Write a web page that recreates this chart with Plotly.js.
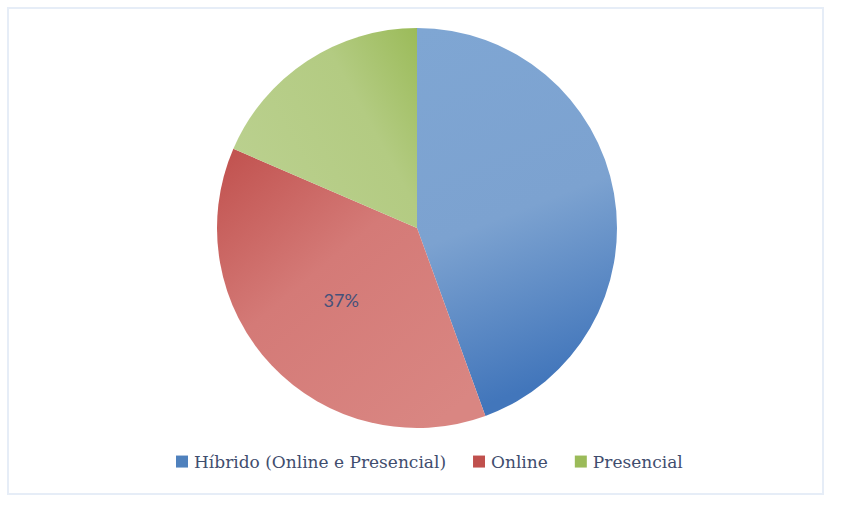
<!DOCTYPE html>
<html>
<head>
<meta charset="utf-8">
<script src="https://cdn.plot.ly/plotly-3.0.1.min.js"></script>
<style>html,body{margin:0;padding:0;background:#fff;}#chart{width:841px;height:513px;}</style>
</head>
<body>
<div id="chart"></div>
<script>
const categories = ['Híbrido (Online e Presencial)', 'Online', 'Presencial'];
const values = [12, 10, 5];
const shownLabels = [false, true, false];

const baseColors = ['#4f81bd', '#c0504d', '#9bbb59'];
const gradients = [
  {id: 'gH', x1: 0, y1: 0, x2: 0.2, y2: 1, stops: [['0%', '#7fa6d3'], ['55%', '#7ca2d0'], ['100%', '#4276bb']]},
  {id: 'gO', x1: 0, y1: 0, x2: 0.8, y2: 1, stops: [['0%', '#c0504d'], ['45%', '#d47a77'], ['100%', '#d98682']]},
  {id: 'gP', x1: 1, y1: 0, x2: 0, y2: 0.6, stops: [['0%', '#9bbb59'], ['40%', '#b3cb82'], ['100%', '#bad08e']]}
];

const trace = {
  type: 'pie',
  labels: categories,
  values: values,
  sort: false,
  direction: 'clockwise',
  rotation: 0,
  marker: {colors: baseColors, line: {width: 0}},
  texttemplate: shownLabels.map(s => s ? '%{percent:.0%}' : ''),
  textposition: 'inside',
  insidetextorientation: 'horizontal',
  textfont: {family: 'Lato, "Liberation Sans", sans-serif', size: 18, color: '#44517a'},
  hoverinfo: 'none'
};

const layout = {
  width: 841,
  height: 513,
  margin: {l: 17, r: 24, t: 28, b: 85},
  paper_bgcolor: '#ffffff',
  showlegend: true,
  legend: {
    orientation: 'h',
    x: 0.515, xanchor: 'center',
    y: -0.085, yanchor: 'middle',
    font: {family: '"DejaVu Serif", serif', size: 17, color: '#3f4d6e'},
    itemsizing: 'constant',
    traceorder: 'normal'
  },
  shapes: [{
    type: 'rect', xref: 'paper', yref: 'paper',
    x0: (8 - 17) / 800, x1: (823 - 17) / 800,
    y0: (428 - 494) / 400, y1: (428 - 8) / 400,
    line: {color: '#e6edf7', width: 2}, fillcolor: 'rgba(0,0,0,0)', layer: 'below'
  }]
};

Plotly.newPlot('chart', [trace], layout, {displayModeBar: false, staticPlot: true}).then(gd => {
  const svg = gd.querySelector('svg.main-svg');
  const ns = 'http://www.w3.org/2000/svg';
  let defs = svg.querySelector('defs');
  if (!defs) { defs = document.createElementNS(ns, 'defs'); svg.insertBefore(defs, svg.firstChild); }
  gradients.forEach(g => {
    const lg = document.createElementNS(ns, 'linearGradient');
    lg.setAttribute('id', g.id);
    lg.setAttribute('x1', g.x1); lg.setAttribute('y1', g.y1);
    lg.setAttribute('x2', g.x2); lg.setAttribute('y2', g.y2);
    g.stops.forEach(s => {
      const st = document.createElementNS(ns, 'stop');
      st.setAttribute('offset', s[0]); st.setAttribute('stop-color', s[1]);
      lg.appendChild(st);
    });
    defs.appendChild(lg);
  });
  const slices = gd.querySelectorAll('.pielayer .slice path.surface');
  slices.forEach((p, i) => { if (gradients[i]) p.style.fill = 'url(#' + gradients[i].id + ')'; });
  // tighten the gap between legend swatch and label
  gd.querySelectorAll('.legend .traces text.legendtext').forEach(t => {
    t.setAttribute('x', '32');
  });
});
</script>
</body>
</html>
